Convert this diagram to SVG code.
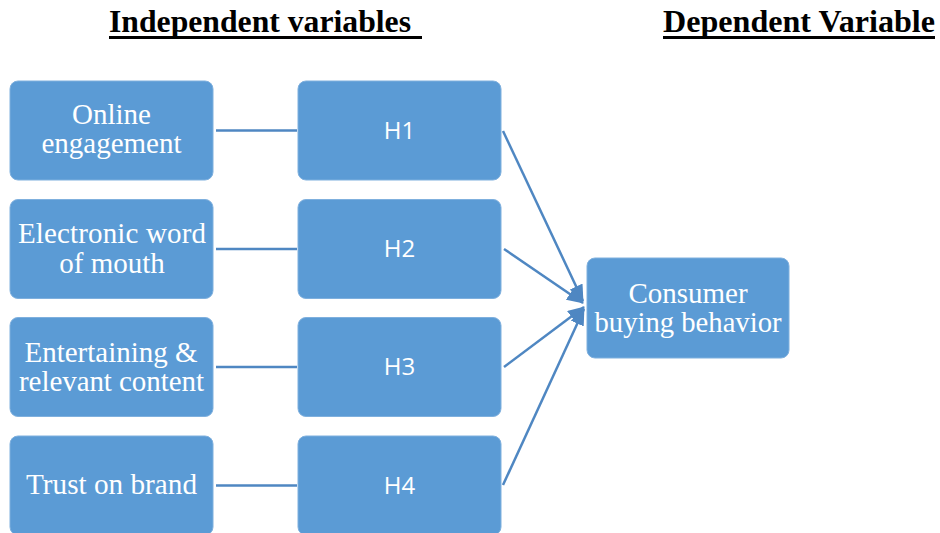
<svg xmlns="http://www.w3.org/2000/svg" width="940" height="533" viewBox="0 0 940 533">
<style>
.box{fill:#5B9BD5;stroke:#7fb0de;stroke-width:1}
.t{font-family:"Liberation Serif","Times New Roman",serif;font-size:29px;fill:#ffffff;text-anchor:middle}
.h{font-family:"Open Sans","Liberation Sans",Arial,sans-serif;font-size:24px;fill:#ffffff;text-anchor:middle}
.hd{font-family:"Liberation Serif","Times New Roman",serif;font-size:31px;font-weight:bold;fill:#000000}
.ln{stroke:#4f87c2;stroke-width:2.5;fill:none}
.ar{stroke:#4f87c2;stroke-width:2.5;fill:none;marker-end:url(#ah)}
</style>
<defs>
<marker id="ah" markerUnits="userSpaceOnUse" markerWidth="18" markerHeight="14" refX="16" refY="7" orient="auto">
<path d="M0,0 L17,7 L0,14 Z" fill="#4f87c2"/>
</marker>
</defs>
<rect width="940" height="533" fill="#ffffff"/>
<g id="headers">
<text class="hd" x="109" y="32" textLength="302" lengthAdjust="spacingAndGlyphs">Independent variables</text>
<rect x="109" y="36" width="313" height="3" fill="#000"/>
<text class="hd" x="663" y="32" textLength="272" lengthAdjust="spacingAndGlyphs">Dependent Variable</text>
<rect x="663" y="36" width="272" height="3" fill="#000"/>
</g>
<g id="connectors">
<line class="ln" x1="216" y1="130.5" x2="297" y2="130.5"/>
<line class="ln" x1="216" y1="249" x2="297" y2="249"/>
<line class="ln" x1="216" y1="367" x2="297" y2="367"/>
<line class="ln" x1="216" y1="485.5" x2="297" y2="485.5"/>
<line class="ar" x1="503" y1="131" x2="583" y2="301"/>
<line class="ar" x1="504" y1="249" x2="583" y2="303"/>
<line class="ar" x1="504" y1="367" x2="584" y2="307"/>
<line class="ar" x1="503" y1="485" x2="584" y2="309"/>
</g>
<g id="n-online">
<rect class="box" x="10" y="81" width="203" height="99" rx="8"/>
<text class="t" x="111.5" y="124">Online</text>
<text class="t" x="111.5" y="153">engagement</text>
</g>
<g id="n-ewom">
<rect class="box" x="10" y="199.5" width="203" height="99" rx="8"/>
<text class="t" x="112" y="243" textLength="188" lengthAdjust="spacing">Electronic word</text>
<text class="t" x="112" y="273">of mouth</text>
</g>
<g id="n-content">
<rect class="box" x="10" y="317.5" width="203" height="99" rx="8"/>
<text class="t" x="111" y="362" textLength="173" lengthAdjust="spacing">Entertaining &amp;</text>
<text class="t" x="111.5" y="391" textLength="185" lengthAdjust="spacing">relevant content</text>
</g>
<g id="n-trust">
<rect class="box" x="10" y="436" width="203" height="99" rx="8"/>
<text class="t" x="111.5" y="494" textLength="171" lengthAdjust="spacingAndGlyphs">Trust on brand</text>
</g>
<g id="n-h1">
<rect class="box" x="298" y="81" width="203" height="99" rx="8"/>
<text class="h" x="399.5" y="138.5">H1</text>
</g>
<g id="n-h2">
<rect class="box" x="298" y="199.5" width="203" height="99" rx="8"/>
<text class="h" x="399.5" y="257">H2</text>
</g>
<g id="n-h3">
<rect class="box" x="298" y="317.5" width="203" height="99" rx="8"/>
<text class="h" x="399.5" y="375">H3</text>
</g>
<g id="n-h4">
<rect class="box" x="298" y="436" width="203" height="99" rx="8"/>
<text class="h" x="399.5" y="493.5">H4</text>
</g>
<g id="n-consumer">
<rect class="box" x="587" y="258" width="202" height="100" rx="8"/>
<text class="t" x="688" y="303">Consumer</text>
<text class="t" x="688" y="332" textLength="187" lengthAdjust="spacingAndGlyphs">buying behavior</text>
</g>
</svg>
